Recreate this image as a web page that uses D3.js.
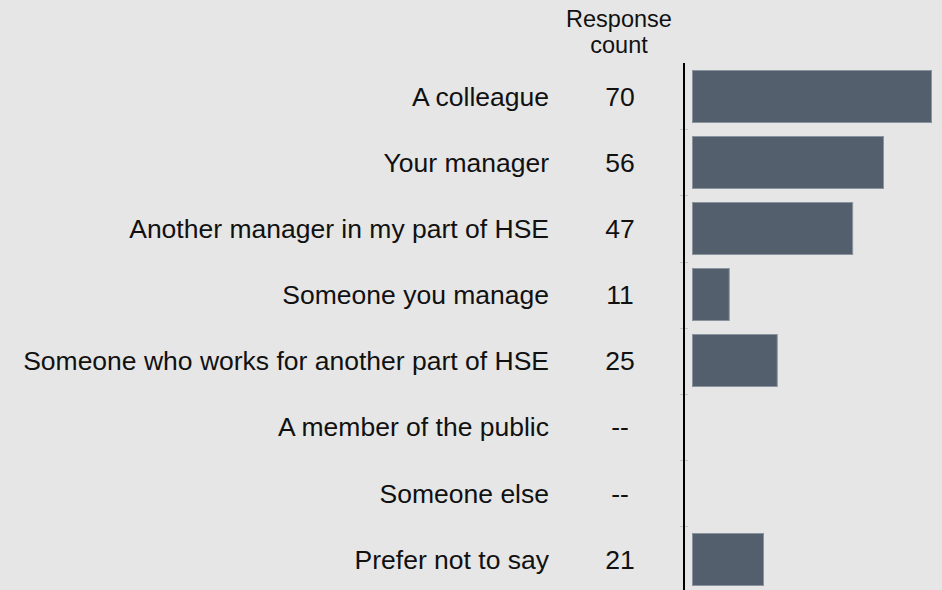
<!DOCTYPE html>
<html>
<head>
<meta charset="utf-8">
<script src="https://cdn.jsdelivr.net/npm/d3@7"></script>
<style>
  html, body { margin: 0; padding: 0; background: #e6e6e6; }
  svg { display: block; font-family: Arial, "Liberation Sans", Helvetica, sans-serif; }
</style>
</head>
<body>
<svg id="thesvg" width="942" height="590"></svg>
<script>
'use strict';

// categories top to bottom, counts (null = suppressed, shown as "--")
let categories = [
  "A colleague",
  "Your manager",
  "Another manager in my part of HSE",
  "Someone you manage",
  "Someone who works for another part of HSE",
  "A member of the public",
  "Someone else",
  "Prefer not to say"
];
let counts = [70, 56, 47, 11, 25, null, null, 21];
let headerLines = ["Response", "count"];

var svg = d3.select("#thesvg"),
    width = +svg.attr("width"),
    height = +svg.attr("height"),
    axisX = 684,     // vertical axis line
    barX0 = 692,     // bars start here
    labelX = 549,    // right edge of category labels
    countX = 620,    // centre of count column
    barFill = "#535f6c",
    barStroke = "#8a949e";

var data = categories.map(function(c, i) { return {cat: c, n: counts[i]}; });

var y = d3.scaleBand()
    .domain(categories)
    .range([63, 63 + 8 * 66.17])
    .paddingInner(0.2)
    .paddingOuter(0.1);

var x = d3.scaleLinear()
    .domain([0, 70])
    .range([0, 240]);

svg.append("rect")
    .attr("width", width)
    .attr("height", height)
    .attr("fill", "#e6e6e6");

// header
svg.append("text")
    .attr("text-anchor", "middle")
    .style("font-size", "23.5px")
    .style("fill", "#111")
  .selectAll("tspan")
    .data(headerLines)
  .enter().append("tspan")
    .attr("x", countX - 1)
    .attr("y", function(d, i) { return 26.5 + i * 26.7; })
    .text(function(d) { return d; });

// category labels
svg.selectAll(".label")
    .data(data)
  .enter().append("text")
    .attr("class", "label")
    .attr("x", labelX)
    .attr("y", function(d) { return y(d.cat) + y.bandwidth() / 2; })
    .attr("dy", "0.36em")
    .attr("text-anchor", "end")
    .style("font-size", "26.5px")
    .style("fill", "#111")
    .text(function(d) { return d.cat; });

// counts
svg.selectAll(".count")
    .data(data)
  .enter().append("text")
    .attr("class", "count")
    .attr("x", countX)
    .attr("y", function(d) { return y(d.cat) + y.bandwidth() / 2; })
    .attr("dy", "0.36em")
    .attr("text-anchor", "middle")
    .style("font-size", "26.5px")
    .style("fill", "#111")
    .text(function(d) { return d.n == null ? "--" : d.n; });

// bars
svg.selectAll(".bar")
    .data(data.filter(function(d) { return d.n != null; }))
  .enter().append("rect")
    .attr("class", "bar")
    .attr("x", barX0 + 0.5)
    .attr("y", function(d) { return Math.round(y(d.cat)) + 0.5; })
    .attr("width", function(d) { return x(d.n) - 1; })
    .attr("height", Math.round(y.bandwidth()) - 1)
    .attr("fill", barFill)
    .attr("stroke", barStroke)
    .attr("stroke-width", 1);

// band boundary ticks
var step = y.step(), r0 = y.range()[0];
svg.selectAll(".tick")
    .data(d3.range(1, categories.length))
  .enter().append("line")
    .attr("class", "tick")
    .attr("x1", axisX - 4)
    .attr("x2", axisX + 4)
    .attr("y1", function(k) { return Math.round(r0 + k * step) + 0.5; })
    .attr("y2", function(k) { return Math.round(r0 + k * step) + 0.5; })
    .attr("stroke", "#c4c4c4")
    .attr("stroke-width", 1);

// axis line
svg.append("line")
    .attr("x1", axisX)
    .attr("x2", axisX)
    .attr("y1", r0)
    .attr("y2", height)
    .attr("stroke", "#000")
    .attr("stroke-width", 2);
</script>
</body>
</html>
